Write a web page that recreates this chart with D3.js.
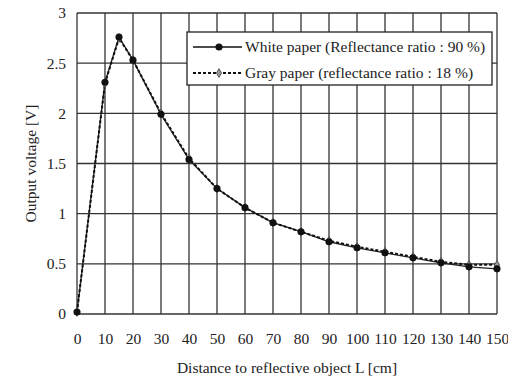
<!DOCTYPE html>
<html>
<head>
<meta charset="utf-8">
<script src="https://cdn.jsdelivr.net/npm/d3@7"></script>
<style>
  body { margin: 0; background: #fff; }
  text { font-family: "Liberation Serif", "DejaVu Serif", serif; fill: #222; }
</style>
</head>
<body>
<div id="chart"></div>
<script>
const distances = [0, 10, 15, 20, 30, 40, 50, 60, 70, 80, 90, 100, 110, 120, 130, 140, 150];
const whitePaper = [0.02, 2.31, 2.76, 2.53, 1.99, 1.54, 1.25, 1.06, 0.91, 0.82, 0.72, 0.66, 0.61, 0.56, 0.51, 0.47, 0.45];
const grayPaper = [0.02, 2.30, 2.75, 2.53, 2.00, 1.55, 1.25, 1.06, 0.91, 0.82, 0.73, 0.67, 0.62, 0.57, 0.52, 0.49, 0.49];
const xTicks = [0, 10, 20, 30, 40, 50, 60, 70, 80, 90, 100, 110, 120, 130, 140, 150];
const yTicks = [0, 0.5, 1, 1.5, 2, 2.5, 3];
const seriesNames = ['White paper (Reflectance ratio : 90 %)', 'Gray paper (reflectance ratio : 18 %)'];

const W = 508, H = 379;
const margin = { top: 13, right: 11, bottom: 65, left: 77 };
const width = W - margin.left - margin.right;
const height = H - margin.top - margin.bottom;

const svg = d3.select('#chart').append('svg')
  .attr('width', W)
  .attr('height', H);

const g = svg.append('g')
  .attr('transform', `translate(${margin.left},${margin.top})`);

const x = d3.scaleLinear().domain([0, 150]).range([0, width]);
const y = d3.scaleLinear().domain([0, 3]).range([height, 0]);

// grid
g.append('g').selectAll('line').data(xTicks).enter().append('line')
  .attr('x1', d => x(d)).attr('x2', d => x(d))
  .attr('y1', 0).attr('y2', height)
  .attr('stroke', '#333').attr('stroke-width', 1.3);
g.append('g').selectAll('line').data(yTicks).enter().append('line')
  .attr('y1', d => y(d)).attr('y2', d => y(d))
  .attr('x1', 0).attr('x2', width)
  .attr('stroke', '#333').attr('stroke-width', 1.3);

// axes (labels only)
const xAxis = g.append('g')
  .attr('transform', `translate(0,${height})`)
  .call(d3.axisBottom(x).tickValues(xTicks).tickSize(0).tickPadding(19));
const yAxis = g.append('g')
  .call(d3.axisLeft(y).tickValues(yTicks).tickSize(0).tickPadding(11).tickFormat(d3.format('')));
[xAxis, yAxis].forEach(a => {
  a.select('.domain').remove();
  a.selectAll('.tick text')
    .attr('font-size', '15.5px')
    .attr('fill', '#222')
    .style('font-family', '"Liberation Serif", serif');
});

svg.append('text')
  .attr('x', margin.left + width / 2)
  .attr('y', H - 6)
  .attr('text-anchor', 'middle')
  .attr('font-size', '15.5px')
  .text('Distance to reflective object L [cm]');

svg.append('text')
  .attr('transform', `translate(36,${margin.top + height / 2}) rotate(-90)`)
  .attr('text-anchor', 'middle')
  .attr('font-size', '15.5px')
  .text('Output voltage [V]');

// lines
const line = d3.line()
  .x((d, i) => x(distances[i]))
  .y(d => y(d));

g.append('path')
  .datum(whitePaper)
  .attr('d', line)
  .attr('fill', 'none')
  .attr('stroke', '#222')
  .attr('stroke-width', 1.3);

g.append('path')
  .datum(grayPaper)
  .attr('d', line)
  .attr('fill', 'none')
  .attr('stroke', '#111')
  .attr('stroke-width', 2)
  .attr('stroke-dasharray', '3,2');

const diamond = d3.symbol().type(d3.symbolDiamond);

g.selectAll('.gray-pt').data(grayPaper).enter().append('path')
  .attr('class', 'gray-pt')
  .attr('transform', (d, i) => `translate(${x(distances[i])},${y(d)})`)
  .attr('d', diamond.size(22)())
  .attr('fill', '#999')
  .attr('stroke', '#555')
  .attr('stroke-width', 1);

g.selectAll('.white-pt').data(whitePaper).enter().append('path')
  .attr('class', 'white-pt')
  .attr('transform', (d, i) => `translate(${x(distances[i])},${y(d)})`)
  .attr('d', d3.symbol().type(d3.symbolCircle).size(40)())
  .attr('fill', '#111');

// legend
const lg = svg.append('g').attr('transform', 'translate(187,32)');
lg.append('rect')
  .attr('width', 305).attr('height', 53)
  .attr('fill', '#fff')
  .attr('stroke', '#222').attr('stroke-width', 1.3);

const rows = [
  { name: seriesNames[0], dash: null, sw: 1.3, fill: '#111', sym: d3.symbolCircle, size: 40 },
  { name: seriesNames[1], dash: '3,2', sw: 2, fill: '#999', sym: d3.symbolDiamond, size: 22 }
];
rows.forEach((r, i) => {
  const yy = 15 + i * 26;
  lg.append('line')
    .attr('x1', 6).attr('x2', 55)
    .attr('y1', yy).attr('y2', yy)
    .attr('stroke', '#111').attr('stroke-width', r.sw)
    .attr('stroke-dasharray', r.dash);
  lg.append('path')
    .attr('transform', `translate(32,${yy})`)
    .attr('d', d3.symbol().type(r.sym).size(r.size)())
    .attr('fill', r.fill)
    .attr('stroke', i === 1 ? '#555' : null);
  lg.append('text')
    .attr('x', 58).attr('y', yy + 5)
    .attr('font-size', '15.5px')
    .text(r.name);
});
</script>
</body>
</html>
